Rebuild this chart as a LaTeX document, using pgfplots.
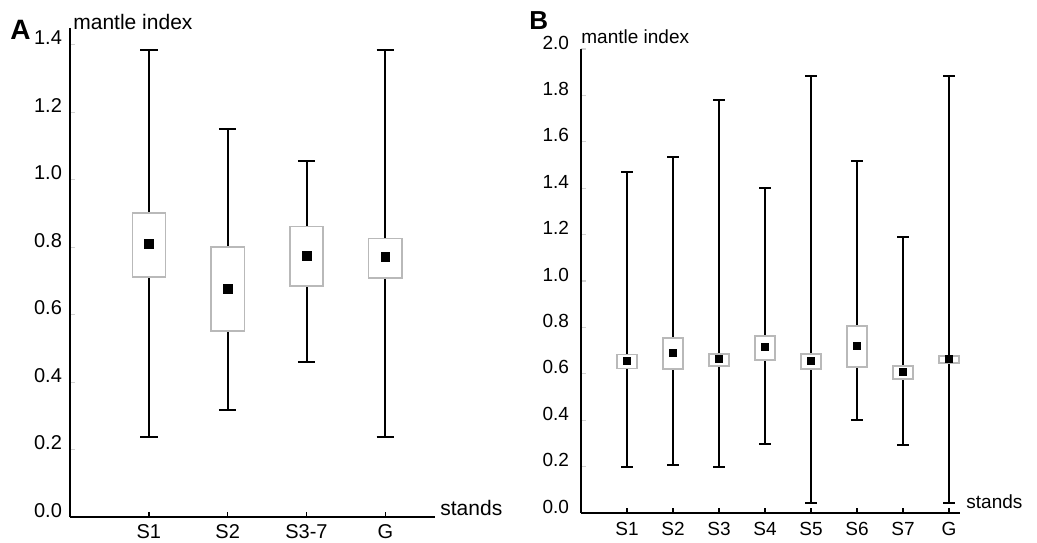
\documentclass[border=0pt]{standalone}
\usepackage{fontspec}
\setmainfont{Liberation Sans}
\usepackage{pgfplots}
\pgfplotsset{compat=1.18}
\usepgfplotslibrary{statistics}

\pgfplotsset{
  mantle/.style={
    scale only axis,
    axis x line=bottom, axis y line=left,
    axis line style={-, line width=1pt, black},
    xmin=0, ymin=0,
    tick align=inside,
    major tick length=2.5pt,
    ytick style={gray!35, line width=0.6pt},
    xtick style={black, line width=0.8pt},
    yticklabel style={anchor=base east},
    y tick label style={/pgf/number format/fixed, /pgf/number format/fixed zerofill, /pgf/number format/precision=1},
    x tick label style={inner sep=1pt},
    /pgf/number format/assume math mode=true,
    boxplot/draw direction=y,
    boxplot/every whisker/.style={black, line width=1pt},
    boxplot/every box/.style={draw=gray!55, fill=white, line width=0.7pt},
    boxplot/every median/.style={draw=none},
    clip=false,
  },
}

\begin{document}
\begin{tikzpicture}
\path[use as bounding box] (-35pt,-12.5pt) rectangle (483.5pt,258.5pt);

% panel A
\begin{axis}[mantle,
    at={(0,0)}, anchor=south west,
    width=182.5pt, height=244.5pt,
    xmax=4.63, ymax=1.45,
    ytick={0,0.2,0.4,0.6,0.8,1.0,1.2,1.4},
    xtick={1,2,3,4}, xticklabels={S1,S2,S3-7,G},
    tick label style={font=\fontsize{10}{12}\selectfont},
    yticklabel style={xshift=-0.5pt},
    xticklabel style={yshift=-2.5pt},
    boxplot/box extend=0.42, boxplot/whisker extend=0.22,
]
\addplot[boxplot prepared={draw position=1, lower whisker=0.237, lower quartile=0.712, median=0.81, upper quartile=0.902, upper whisker=1.385}] coordinates {};
\addplot[boxplot prepared={draw position=2, lower whisker=0.317, lower quartile=0.552, median=0.677, upper quartile=0.801, upper whisker=1.151}] coordinates {};
\addplot[boxplot prepared={draw position=3, lower whisker=0.46, lower quartile=0.685, median=0.774, upper quartile=0.861, upper whisker=1.056}] coordinates {};
\addplot[boxplot prepared={draw position=4, lower whisker=0.237, lower quartile=0.709, median=0.772, upper quartile=0.825, upper whisker=1.385}] coordinates {};
\addplot[only marks, mark=square*, mark size=2.2pt, black] coordinates {
  (1,0.81) (2,0.677) (3,0.774) (4,0.772)
};
\node[anchor=base west, inner sep=0, font=\fontsize{10.5}{12}\selectfont, xshift=1.5pt, yshift=-1pt] at (rel axis cs:0,1) {mantle index};
\node[anchor=base west, inner sep=0, font=\fontsize{10.5}{12}\selectfont, xshift=2.5pt, yshift=1pt] at (rel axis cs:1,0) {stands};
\end{axis}
\node[anchor=base west, inner sep=0, font=\bfseries\fontsize{14}{16}\selectfont] at (-30pt,238.5pt) {A};

% panel B
\begin{axis}[mantle,
    at={(255.5pt,2pt)}, anchor=south west,
    width=189.5pt, height=232pt,
    xmax=8.24, ymax=2.0,
    ytick={0,0.2,0.4,0.6,0.8,1.0,1.2,1.4,1.6,1.8,2.0},
    xtick={1,2,3,4,5,6,7,8}, xticklabels={S1,S2,S3,S4,S5,S6,S7,G},
    tick label style={font=\fontsize{9.5}{11}\selectfont},
    yticklabel style={xshift=-2.5pt},
    xticklabel style={yshift=-3.5pt},
    boxplot/box extend=0.43, boxplot/whisker extend=0.24,
]
\addplot[boxplot prepared={draw position=1, lower whisker=0.198, lower quartile=0.622, median=0.655, upper quartile=0.684, upper whisker=1.47}] coordinates {};
\addplot[boxplot prepared={draw position=2, lower whisker=0.205, lower quartile=0.62, median=0.69, upper quartile=0.754, upper whisker=1.535}] coordinates {};
\addplot[boxplot prepared={draw position=3, lower whisker=0.198, lower quartile=0.634, median=0.664, upper quartile=0.685, upper whisker=1.78}] coordinates {};
\addplot[boxplot prepared={draw position=4, lower whisker=0.297, lower quartile=0.66, median=0.716, upper quartile=0.763, upper whisker=1.40}] coordinates {};
\addplot[boxplot prepared={draw position=5, lower whisker=0.045, lower quartile=0.62, median=0.655, upper quartile=0.685, upper whisker=1.884}] coordinates {};
\addplot[boxplot prepared={draw position=6, lower whisker=0.40, lower quartile=0.63, median=0.72, upper quartile=0.806, upper whisker=1.517}] coordinates {};
\addplot[boxplot prepared={draw position=7, lower whisker=0.293, lower quartile=0.578, median=0.608, upper quartile=0.634, upper whisker=1.19}] coordinates {};
\addplot[boxplot prepared={draw position=8, lower whisker=0.045, lower quartile=0.647, median=0.664, upper quartile=0.677, upper whisker=1.884}] coordinates {};
\addplot[only marks, mark=square*, mark size=1.8pt, black] coordinates {
  (1,0.655) (2,0.69) (3,0.664) (4,0.716) (5,0.655) (6,0.72) (7,0.608) (8,0.664)
};
\node[anchor=base west, inner sep=0, font=\fontsize{9.5}{11}\selectfont, yshift=3pt] at (rel axis cs:0,1) {mantle index};
\node[anchor=base west, inner sep=0, font=\fontsize{9.5}{11}\selectfont, xshift=3pt, yshift=2.5pt] at (rel axis cs:1,0) {stands};
\end{axis}
\node[anchor=base west, inner sep=0, font=\bfseries\fontsize{13}{15}\selectfont] at (229.5pt,243.5pt) {B};
\end{tikzpicture}
\end{document}
